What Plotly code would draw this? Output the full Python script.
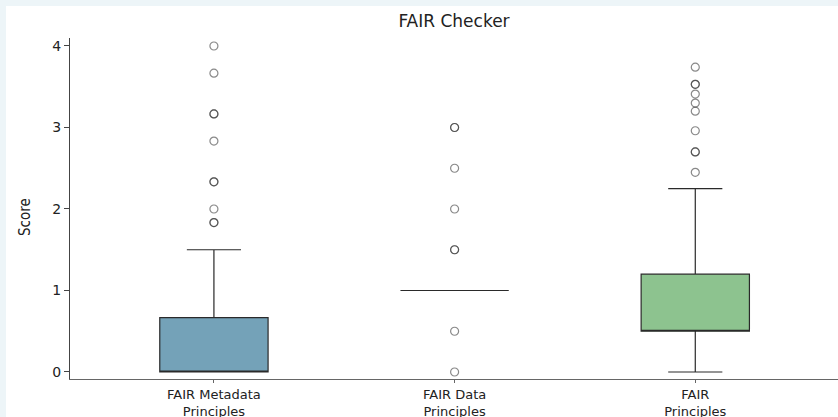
import plotly.graph_objects as go

# ---- data ----
categories = ["FAIR Metadata<br>Principles", "FAIR Data<br>Principles", "FAIR<br>Principles"]
q1 = [0.0, 1.0, 0.5]
median = [0.0, 1.0, 0.5]
q3 = [0.667, 1.0, 1.2]
lowerfence = [0.0, 1.0, 0.0]
upperfence = [1.5, 1.0, 2.25]
box_colors = ["#74a2b8", "#ffffff", "#8dc38f"]

outliers_metadata = [4.0, 3.667, 3.167, 3.167, 2.833, 2.333, 2.333, 2.0, 1.833, 1.833]
outliers_data = [3.0, 3.0, 2.5, 2.0, 1.5, 1.5, 0.5, 0.0]
outliers_principles = [3.74, 3.53, 3.53, 3.41, 3.30, 3.20, 2.96, 2.70, 2.70, 2.45]

title_text = "FAIR Checker"
y_title = "Score"
y_ticks = [0, 1, 2, 3, 4]

fig = go.Figure()

for i, cat in enumerate(categories):
    fig.add_trace(go.Box(
        x=[cat],
        q1=[q1[i]], median=[median[i]], q3=[q3[i]],
        lowerfence=[lowerfence[i]], upperfence=[upperfence[i]],
        fillcolor=box_colors[i],
        line=dict(color="#2a2a2a", width=1.2),
        width=0.45,
        whiskerwidth=0.5,
        boxpoints=False,
        showlegend=False,
        hoverinfo="skip",
    ))

outlier_sets = [outliers_metadata, outliers_data, outliers_principles]
for i, vals in enumerate(outlier_sets):
    fig.add_trace(go.Scatter(
        x=[categories[i]] * len(vals),
        y=vals,
        mode="markers",
        marker=dict(symbol="circle-open", size=8,
                    color="rgba(40,40,40,0.55)", line=dict(width=1.2)),
        showlegend=False,
        hoverinfo="skip",
    ))

fig.update_layout(
    width=838, height=417,
    margin=dict(l=70, r=0, t=38, b=38, autoexpand=False),
    paper_bgcolor="#edf5f8",
    plot_bgcolor="white",
    font=dict(family="DejaVu Sans", color="#222222"),
    title=dict(text=title_text, x=0.5, xref="paper", xanchor="center",
               y=1 - 21 / 417, yanchor="middle",
               font=dict(size=17, color="#222222")),
    shapes=[dict(type="rect", xref="paper", yref="paper",
                 x0=(6 - 70) / 768, x1=1.05, y0=-0.3, y1=1 + (38 - 6) / 341,
                 fillcolor="white", line=dict(width=0), layer="below")],
    annotations=[dict(x=(25 - 70) / 768, xref="paper", y=(379 - 217) / 341, yref="paper",
                      text=y_title, showarrow=False, textangle=-90,
                      xanchor="center", yanchor="middle",
                      font=dict(size=15, family="DejaVu Sans Condensed", color="#222222"))],
)

fig.update_xaxes(
    type="category",
    categoryorder="array", categoryarray=categories,
    range=[-0.598, 2.593],
    showline=True, linecolor="#666666", linewidth=1,
    ticks="outside", ticklen=3, tickcolor="#666666",
    tickfont=dict(size=13, family="DejaVu Sans", color="#222222"),
    showgrid=False, zeroline=False,
)
fig.update_yaxes(
    range=[-0.086, 4.098],
    tickvals=y_ticks,
    showline=True, linecolor="#444444", linewidth=1,
    ticks="outside", ticklen=5, tickcolor="#444444",
    showgrid=False, zeroline=False,
    tickfont=dict(size=14, family="DejaVu Sans", color="#222222"),
)

fig.write_html(
    "out.html",
    config={"displayModeBar": False},
    post_script="document.body.style.margin='0';document.body.style.overflow='hidden';",
)
